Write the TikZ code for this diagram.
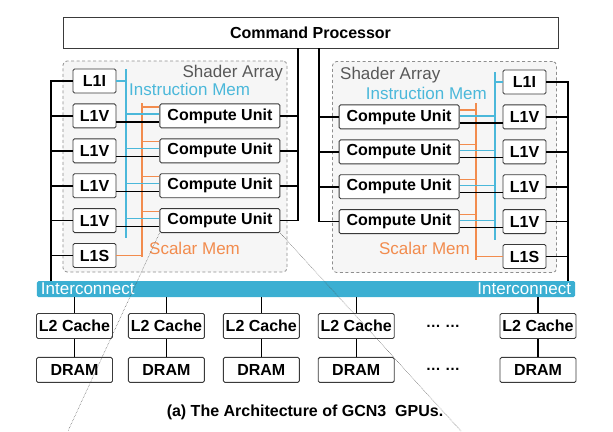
\documentclass[tikz,border=0pt]{standalone}
\usepackage{fontspec}
\setmainfont{Liberation Sans}
\usetikzlibrary{positioning}

\definecolor{boxline}{HTML}{3A3A3A}
\definecolor{arrayline}{HTML}{8E8E8E}
\definecolor{arrayfill}{HTML}{F6F6F6}
\definecolor{labelgray}{HTML}{585858}
\definecolor{imemblue}{HTML}{4BB8DA}
\definecolor{smemorange}{HTML}{F28C4E}
\definecolor{icblue}{HTML}{3BAFD2}

\begin{document}
\begin{tikzpicture}[x=1bp,y=-1bp,node distance=10bp,
    box/.style={draw=boxline,fill=white,rounded corners=1.5bp,line width=0.9bp,
        inner sep=0pt,font=\fontsize{16bp}{18bp}\selectfont\bfseries},
    l1 node/.style={box,minimum width=43bp,minimum height=24bp},
    cu node/.style={box,minimum width=120bp,minimum height=24bp},
    mem node/.style={box,minimum width=76bp,minimum height=25bp},
    array node/.style={draw=arrayline,fill=arrayfill,dash pattern=on 3bp off 2.5bp,
        rounded corners=4bp,line width=0.8bp,minimum width=224bp,minimum height=211bp},
    tag/.style={inner sep=0pt,font=\fontsize{17bp}{19bp}\selectfont},
    bus/.style={line width=1.6bp},
    link/.style={line width=1.2bp},
    imem/.style={draw=imemblue,line width=1.3bp},
    smem/.style={draw=smemorange,line width=1.3bp},
    zoom line/.style={densely dotted,line width=0.5bp,black!70}]

    \useasboundingbox (0,0) rectangle (613,431);

    % Shader arrays
    \node[array node] (sa left) at (175,166.5) {};
    \node[array node] (sa right) at (444.5,167) {};
    \node[tag,text=labelgray,anchor=east] (sa left tag) at (283,73) {Shader Array};
    \node[tag,text=labelgray,anchor=west] (sa right tag) at (340,75) {Shader Array};
    \node[tag,text=imemblue,anchor=west] (imem left tag) at (129,89) {Instruction Mem};
    \node[tag,text=imemblue,anchor=east] (imem right tag) at (487,93) {Instruction Mem};
    \node[tag,text=smemorange,anchor=west] (smem left tag) at (149,248) {Scalar Mem};
    \node[tag,text=smemorange,anchor=east] (smem right tag) at (470,248) {Scalar Mem};

    % Command processor
    \node[box,minimum width=495bp,minimum height=31bp,rounded corners=0pt] (cp) at (310.5,32.5) {Command Processor};

    % Left array
    \node[l1 node] (l1i) at (94.5,81) {L1I};
    \node[l1 node] (l1v1) [below=of l1i] {L1V};
    \node[l1 node] (l1v2) [below=of l1v1] {L1V};
    \node[l1 node] (l1v3) [below=of l1v2] {L1V};
    \node[l1 node] (l1v4) [below=of l1v3] {L1V};
    \node[l1 node] (l1s) [below=of l1v4] {L1S};
    \node[cu node] (cu1) [right=43bp of l1v1] {Compute Unit};
    \node[cu node] (cu2) [right=43bp of l1v2] {Compute Unit};
    \node[cu node] (cu3) [right=43bp of l1v3] {Compute Unit};
    \node[cu node] (cu4) [right=43bp of l1v4] {Compute Unit};

    % Right array
    \node[l1 node] (rl1i) at (524.5,82) {L1I};
    \node[l1 node] (rl1v1) [below=of rl1i] {L1V};
    \node[l1 node] (rl1v2) [below=of rl1v1] {L1V};
    \node[l1 node] (rl1v3) [below=of rl1v2] {L1V};
    \node[l1 node] (rl1v4) [below=of rl1v3] {L1V};
    \node[l1 node] (rl1s) [below=of rl1v4] {L1S};
    \node[cu node] (cu5) [left=43bp of rl1v1] {Compute Unit};
    \node[cu node] (cu6) [left=43bp of rl1v2] {Compute Unit};
    \node[cu node] (cu7) [left=43bp of rl1v3] {Compute Unit};
    \node[cu node] (cu8) [left=43bp of rl1v4] {Compute Unit};

    % Interconnect
    \node[fill=icblue,rounded corners=1.5bp,minimum width=538bp,minimum height=16bp,inner sep=0pt] (ic) at (306,289) {};
    \node[tag,text=white,anchor=west] (ic left tag) at ([xshift=4bp]ic.west) {Interconnect};
    \node[tag,text=white,anchor=east] (ic right tag) at ([xshift=-4bp]ic.east) {Interconnect};

    % Memory
    \node[mem node] (l2a) at (74.5,326) {L2 Cache};
    \node[mem node] (l2b) [right=15bp of l2a] {L2 Cache};
    \node[mem node] (l2c) [right=18bp of l2b] {L2 Cache};
    \node[mem node] (l2d) [right=18bp of l2c] {L2 Cache};
    \node[mem node] (l2e) at (538,326) {L2 Cache};
    \node[mem node] (drama) [below=18bp of l2a] {DRAM};
    \node[mem node] (dramb) [below=18bp of l2b] {DRAM};
    \node[mem node] (dramc) [below=18bp of l2c] {DRAM};
    \node[mem node] (dramd) [below=18bp of l2d] {DRAM};
    \node[mem node] (drame) [below=18bp of l2e] {DRAM};
    \node[tag,font=\fontsize{15bp}{17bp}\selectfont\bfseries] (l2 dots) at (443,326) {… …};
    \node[tag,font=\fontsize{15bp}{17bp}\selectfont\bfseries] (dram dots) at (443,369) {… …};

    \node[tag,font=\fontsize{16bp}{18bp}\selectfont\bfseries] (caption) at (305,412) {(a) The Architecture of GCN3~ GPUs.};

    % Bus positions
    \coordinate (west bus) at (51,0);
    \coordinate (east bus) at (568,0);
    \coordinate (cp left) at (298,0);
    \coordinate (cp right) at (319,0);
    \coordinate (imem left top) at (126,69);
    \coordinate (imem left bot) at (126,238);
    \coordinate (smem left top) at (142,103);
    \coordinate (smem left bot) at (142,257);
    \coordinate (imem right top) at (495,72);
    \coordinate (imem right bot) at (495,240);
    \coordinate (smem right top) at (476,103);
    \coordinate (smem right bot) at (476,260);

    % Draw black buses
    \draw[bus] (l1i.west) -| (west bus |- ic.north);
    \draw[bus] (rl1i.east) -| (east bus |- ic.north);
    \draw[bus] (cp.south -| cp left) |- (cu4.east);
    \draw[bus] (cp.south -| cp right) |- (cu8.west);
    \path[bus]
        (l1v1.west) edge (l1v1.west -| west bus)
        (l1v2.west) edge (l1v2.west -| west bus)
        (l1v3.west) edge (l1v3.west -| west bus)
        (l1v4.west) edge (l1v4.west -| west bus)
        (l1s.west) edge (l1s.west -| west bus)
        (rl1v1.east) edge (rl1v1.east -| east bus)
        (rl1v2.east) edge (rl1v2.east -| east bus)
        (rl1v3.east) edge (rl1v3.east -| east bus)
        (rl1v4.east) edge (rl1v4.east -| east bus)
        (rl1s.east) edge (rl1s.east -| east bus)
        (cu1.east) edge (cu1.east -| cp left)
        (cu2.east) edge (cu2.east -| cp left)
        (cu3.east) edge (cu3.east -| cp left)
        (cu5.west) edge (cu5.west -| cp right)
        (cu6.west) edge (cu6.west -| cp right)
        (cu7.west) edge (cu7.west -| cp right);

    % Scalar memory
    \draw[smem] (smem left top) -- (smem left bot);
    \draw[smem] (smem right top) -- (smem right bot);
    \path[smem]
        (l1s.east) edge (l1s.east -| smem left top)
        (rl1s.west) edge (rl1s.west -| smem right top)
        ([yshift=9bp]cu1.west) edge ([yshift=9bp]cu1.west -| smem left top)
        ([yshift=9bp]cu2.west) edge ([yshift=9bp]cu2.west -| smem left top)
        ([yshift=9bp]cu3.west) edge ([yshift=9bp]cu3.west -| smem left top)
        ([yshift=9bp]cu4.west) edge ([yshift=9bp]cu4.west -| smem left top)
        ([yshift=7bp]cu5.east) edge ([yshift=7bp]cu5.east -| smem right top)
        ([yshift=7bp]cu6.east) edge ([yshift=7bp]cu6.east -| smem right top)
        ([yshift=7bp]cu7.east) edge ([yshift=7bp]cu7.east -| smem right top)
        ([yshift=7bp]cu8.east) edge ([yshift=7bp]cu8.east -| smem right top);

    % Instruction memory
    \draw[imem] (imem left top) -- (imem left bot);
    \draw[imem] (imem right top) -- (imem right bot);
    \path[imem]
        (l1i.east) edge (l1i.east -| imem left top)
        (rl1i.west) edge (rl1i.west -| imem right top)
        ([yshift=2bp]cu1.west) edge ([yshift=2bp]cu1.west -| imem left top)
        ([yshift=2bp]cu2.west) edge ([yshift=2bp]cu2.west -| imem left top)
        ([yshift=2bp]cu3.west) edge ([yshift=2bp]cu3.west -| imem left top)
        ([yshift=2bp]cu4.west) edge ([yshift=2bp]cu4.west -| imem left top)
        ([yshift=1bp]cu5.east) edge ([yshift=1bp]cu5.east -| imem right top)
        ([yshift=1bp]cu6.east) edge ([yshift=1bp]cu6.east -| imem right top)
        ([yshift=1bp]cu7.east) edge ([yshift=1bp]cu7.east -| imem right top)
        ([yshift=1bp]cu8.east) edge ([yshift=1bp]cu8.east -| imem right top);

    % L1V to compute units
    \path[link]
        ([yshift=-6bp]l1v1.east) edge ([yshift=-6bp]l1v1.east -| cu1.west)
        ([yshift=-6bp]l1v2.east) edge ([yshift=-6bp]l1v2.east -| cu2.west)
        ([yshift=-6bp]l1v3.east) edge ([yshift=-6bp]l1v3.east -| cu3.west)
        ([yshift=-6bp]l1v4.east) edge ([yshift=-6bp]l1v4.east -| cu4.west)
        ([yshift=-6bp]cu5.east) edge ([yshift=-6bp]cu5.east -| rl1v1.west)
        ([yshift=-6bp]cu6.east) edge ([yshift=-6bp]cu6.east -| rl1v2.west)
        ([yshift=-6bp]cu7.east) edge ([yshift=-6bp]cu7.east -| rl1v3.west)
        ([yshift=-6bp]cu8.east) edge ([yshift=-6bp]cu8.east -| rl1v4.west);

    % Interconnect to memory
    \path[link]
        (l2a.north |- ic.south) edge (l2a.north)
        (l2b.north |- ic.south) edge (l2b.north)
        (l2c.north |- ic.south) edge (l2c.north)
        (l2d.north |- ic.south) edge (l2d.north)
        (l2e.north |- ic.south) edge (l2e.north)
        (l2a) edge (drama)
        (l2b) edge (dramb)
        (l2c) edge (dramc)
        (l2d) edge (dramd)
        (l2e) edge (drame);

    % Zoom lines
    \coordinate (zoom left) at (68,431);
    \coordinate (zoom right) at (461,431);
    \draw[zoom line] (cu4.south west) -- (zoom left);
    \draw[zoom line] (cu4.south east) -- (zoom right);

\end{tikzpicture}
\end{document}
